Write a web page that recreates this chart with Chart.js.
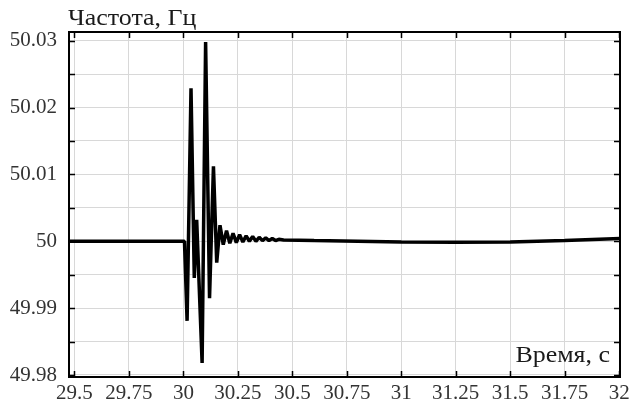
<!DOCTYPE html>
<html>
<head>
<meta charset="utf-8">
<script src="https://cdn.jsdelivr.net/npm/chart.js@4.4.1/dist/chart.umd.min.js"></script>
<style>
  html, body { margin: 0; padding: 0; background: #fff; }
  #wrap { width: 629px; height: 416px; position: relative; }
</style>
</head>
<body>
<div id="wrap"><canvas id="c" width="629" height="416"></canvas></div>
<script>
// Frequency transient after a disturbance at t = 30 s
const timeS = [
  29.475, 29.75, 30.0, 30.005, 30.017, 30.035, 30.05, 30.061, 30.086, 30.102,
  30.12, 30.138, 30.153, 30.168, 30.183, 30.198, 30.213, 30.228, 30.243, 30.258,
  30.273, 30.288, 30.303, 30.318, 30.333, 30.348, 30.363, 30.378, 30.393, 30.408,
  30.423, 30.438, 30.46, 30.6, 30.8, 31.0, 31.25, 31.5, 31.75, 32.005
];
const freqHz = [
  50.0, 50.0, 50.0, 50.0, 49.9881, 50.0229, 49.9945, 50.0032, 49.9818, 50.0298,
  49.9915, 50.0112, 49.9968, 50.0024, 49.9995, 50.0016, 49.9997, 50.0012, 49.9998, 50.001,
  49.9999, 50.0008, 50.0, 50.0007, 50.0, 50.0006, 50.0001, 50.0005, 50.0001, 50.0004,
  50.0001, 50.0003, 50.0002, 50.0001, 50.0, 49.9999, 49.99985, 49.9999, 50.0001, 50.0004
];

const xTickValues = [29.5, 29.75, 30, 30.25, 30.5, 30.75, 31, 31.25, 31.5, 31.75, 32];
const xTickLabels = ['29.5', '29.75', '30', '30.25', '30.5', '30.75', '31', '31.25', '31.5', '31.75', '32'];
const yTickValues = [49.98, 49.985, 49.99, 49.995, 50, 50.005, 50.01, 50.015, 50.02, 50.025, 50.03];
const yTickLabels = ['49.98', '', '49.99', '', '50', '', '50.01', '', '50.02', '', '50.03'];

const yTitle = 'Частота, Гц';
const xTitle = 'Время, с';

const points = timeS.map((t, i) => ({ x: t, y: freqHz[i] }));

const serif = '"Liberation Serif", "Times New Roman", serif';

// Frame, inward tick marks and axis captions
const framePlugin = {
  id: 'frame',
  afterDatasetsDraw(chart) {
    const { ctx, chartArea: a, scales } = chart;
    ctx.save();
    ctx.strokeStyle = '#000';
    ctx.lineWidth = 1.5;
    ctx.beginPath();
    scales.x.ticks.forEach(tk => {
      const px = Math.round(scales.x.getPixelForValue(tk.value)) + 0.5;
      ctx.moveTo(px, a.bottom); ctx.lineTo(px, a.bottom - 6);
      ctx.moveTo(px, a.top); ctx.lineTo(px, a.top + 6);
    });
    scales.y.ticks.forEach(tk => {
      const py = Math.round(scales.y.getPixelForValue(tk.value)) + 0.5;
      ctx.moveTo(a.left, py); ctx.lineTo(a.left + 6, py);
      ctx.moveTo(a.right, py); ctx.lineTo(a.right - 6, py);
    });
    ctx.stroke();
    ctx.lineWidth = 2;
    ctx.strokeRect(a.left, a.top, a.right - a.left, a.bottom - a.top);

    ctx.fillStyle = '#1a1a1a';
    ctx.font = '24px ' + serif;
    ctx.textBaseline = 'alphabetic';
    ctx.textAlign = 'left';
    // captions are set slightly wide
    ctx.save();
    ctx.translate(a.left - 1, 25);
    ctx.scale(1.08, 1);
    ctx.fillText(yTitle, 0, 0);
    ctx.restore();
    ctx.save();
    ctx.translate(a.right - 10, 362);
    ctx.scale(1.08, 1);
    ctx.textAlign = 'right';
    ctx.fillText(xTitle, 0, 0);
    ctx.restore();
    ctx.restore();
  }
};

const tickFont = { family: serif, size: 21 };

new Chart(document.getElementById('c'), {
  type: 'line',
  data: {
    datasets: [{
      data: points,
      borderColor: '#000',
      borderWidth: 3.5,
      borderJoinStyle: 'bevel',
      pointRadius: 0,
      tension: 0,
      fill: false
    }]
  },
  options: {
    responsive: false,
    animation: false,
    parsing: false,
    layout: { padding: { top: 32, right: 9, left: 0, bottom: 0 } },
    plugins: { legend: { display: false }, tooltip: { enabled: false } },
    scales: {
      x: {
        type: 'linear',
        min: 29.475,
        max: 32.004,
        afterBuildTicks: s => { s.ticks = xTickValues.map(v => ({ value: v })); },
        afterFit: s => { s.height = 39; s.paddingLeft = 0; s.paddingRight = 0; },
        grid: { color: '#d8d8d8', lineWidth: 1, drawTicks: false },
        border: { display: false },
        ticks: {
          autoSkip: false,
          maxRotation: 0,
          padding: 4,
          color: '#333',
          font: tickFont,
          callback: (v, i) => xTickLabels[i]
        }
      },
      y: {
        type: 'linear',
        min: 49.9797,
        max: 50.0313,
        afterBuildTicks: s => { s.ticks = yTickValues.map(v => ({ value: v })); },
        afterFit: s => { s.width = 69; s.paddingTop = 0; s.paddingBottom = 0; },
        grid: { color: '#d8d8d8', lineWidth: 1, drawTicks: false },
        border: { display: false },
        ticks: {
          autoSkip: false,
          padding: 12,
          color: '#333',
          font: tickFont,
          callback: (v, i) => yTickLabels[i]
        }
      }
    }
  },
  plugins: [framePlugin]
});
</script>
</body>
</html>
